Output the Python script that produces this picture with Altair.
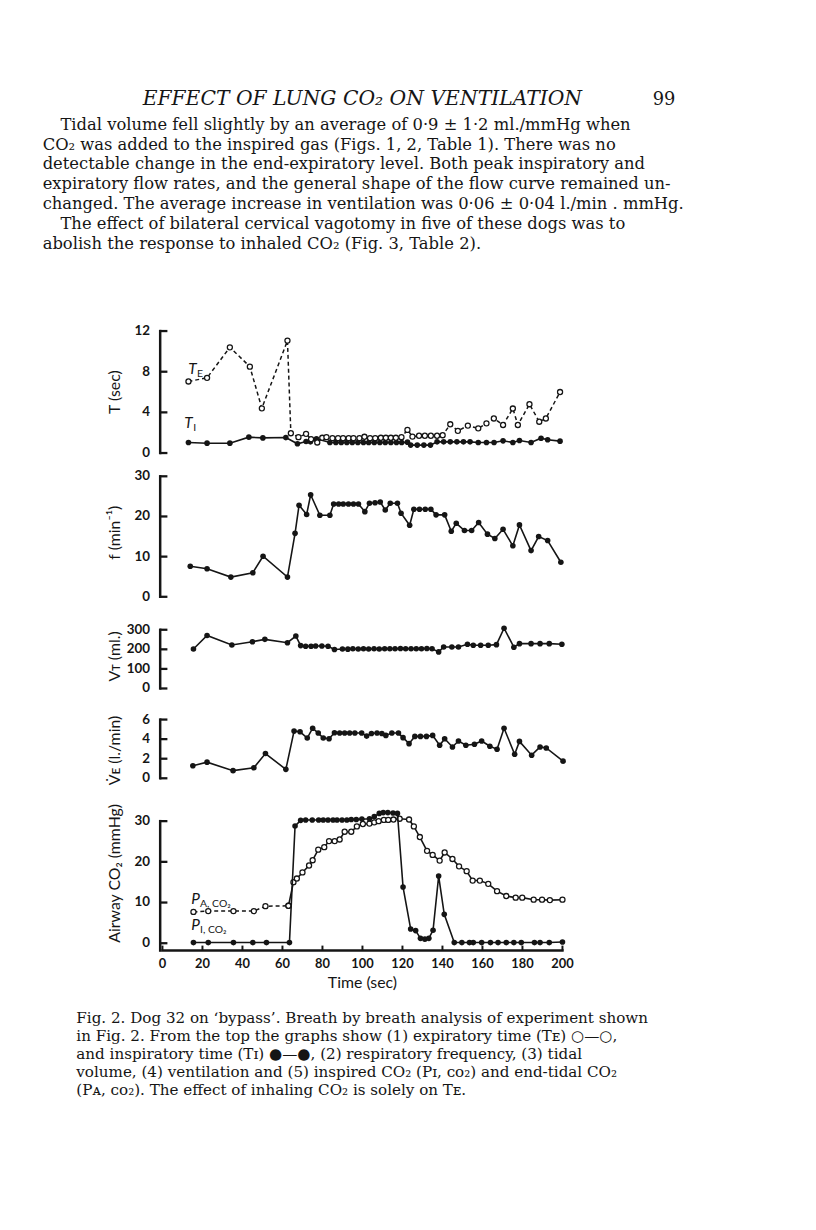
import altair as alt
import pandas as pd

# ---------------- data ----------------
TE_T = [13.0, 22.3, 33.7, 43.7, 49.7, 62.5, 64.2, 68.0, 71.8, 74.3, 77.4, 79.9,
        82.0, 85.0, 87.8, 90.3, 93.1, 95.5, 98.5, 101.0, 103.8, 106.4, 109.2, 111.7,
        114.2, 116.7, 119.5, 122.5, 125.0, 128.3, 131.2, 134.2, 137.3, 140.1, 143.9,
        147.7, 152.7, 157.9, 162.0, 165.7, 170.3, 175.2, 177.7, 183.5, 188.4, 191.7, 198.8]
TE_V = [7.04, 7.4, 10.4, 8.5, 4.4, 11.06, 1.95, 1.56, 1.89, 1.37, 1.04, 1.5,
        1.56, 1.46, 1.46, 1.46, 1.46, 1.46, 1.46, 1.6, 1.46, 1.46, 1.5, 1.5,
        1.5, 1.5, 1.56, 2.27, 1.62, 1.7, 1.7, 1.7, 1.7, 1.75, 2.83,
        2.18, 2.7, 2.43, 2.92, 3.4, 2.76, 4.38, 2.76, 4.8, 3.08, 3.4, 6.0]

TI_T = [13.0, 22.3, 33.7, 43.2, 50.2, 61.7, 67.5, 71.8, 74.0, 77.0,
        83.7, 86.7, 89.4, 92.2, 94.9, 97.7, 100.5, 103.1, 105.9, 108.7, 111.4, 114.2,
        117.0, 119.6, 122.5, 124.1, 127.4, 130.7, 134.0, 137.3, 140.6, 143.9, 147.2,
        150.5, 153.8, 157.9, 162.0, 165.8, 170.3, 175.2, 178.5, 184.3, 189.3, 192.6, 198.8]
TI_V = [1.04, 0.97, 0.97, 1.56, 1.49, 1.52, 0.91, 1.14, 1.1, 1.4,
        1.04, 1.04, 1.04, 1.04, 1.04, 1.04, 1.04, 1.04, 1.04, 1.04, 1.04, 1.04,
        1.04, 1.04, 1.07, 0.78, 0.78, 0.78, 0.78, 1.1, 1.1, 1.1, 1.1,
        1.1, 1.1, 1.04, 1.04, 1.04, 1.2, 1.04, 1.23, 1.04, 1.46, 1.3, 1.17]

F_T = [13.9, 22.3, 34.2, 45.2, 50.3, 62.5, 66.3, 68.3, 72.1, 74.1, 78.7, 83.7,
       85.6, 88.1, 90.4, 93.0, 95.5, 98.0, 101.2, 103.5, 106.3, 108.9, 111.4, 113.9,
       117.5, 119.3, 123.6, 125.7, 128.5, 131.4, 134.2, 136.8, 141.1, 144.4, 146.9,
       151.0, 154.6, 158.1, 162.5, 166.2, 170.3, 175.2, 178.5, 184.3, 188.1, 192.6, 199.2]
F_V = [7.6, 7.0, 4.9, 6.0, 10.1, 4.9, 15.8, 22.8, 20.5, 25.4, 20.3, 20.3,
       23.1, 23.1, 23.1, 23.1, 23.1, 23.1, 21.2, 23.3, 23.4, 23.6, 21.6, 23.3,
       23.3, 20.8, 17.8, 21.8, 21.8, 21.8, 21.8, 20.4, 20.4, 16.3, 18.3,
       16.5, 16.5, 18.5, 15.6, 14.5, 16.8, 12.7, 17.9, 11.5, 15.0, 14.0, 8.6]

VT_T = [15.5, 22.3, 34.7, 45.0, 51.2, 62.5, 66.7, 69.1, 71.6, 74.3, 76.6, 79.7,
        82.8, 86.0, 90.0, 92.7, 95.2, 97.9, 100.5, 103.1, 105.8, 108.4, 111.1, 113.7,
        116.3, 119.0, 121.6, 124.3, 126.9, 129.5, 132.2, 134.8, 138.1, 140.6, 144.7,
        148.0, 152.5, 155.4, 159.1, 162.9, 167.0, 170.8, 175.7, 178.5, 184.3, 188.8,
        193.4, 199.7]
VT_V = [202, 271, 222, 239, 251, 234, 268, 219, 216, 216, 217, 217,
        216, 199, 202, 201, 203, 202, 203, 202, 203, 202, 203, 203,
        203, 204, 203, 203, 203, 203, 204, 203, 187, 212, 212,
        212, 226, 221, 221, 221, 224, 308, 211, 229, 229, 229,
        229, 226]

VE_T = [15.2, 22.3, 35.3, 45.7, 51.5, 61.7, 65.8, 68.8, 72.4, 75.1, 77.9, 80.4,
        83.3, 86.0, 88.6, 91.1, 93.6, 96.2, 99.6, 102.1, 104.5, 107.3, 109.7, 111.7,
        114.7, 118.0, 120.3, 123.3, 126.2, 129.0, 132.0, 135.1, 138.6, 141.1, 145.0,
        148.0, 151.7, 156.0, 159.6, 163.7, 167.3, 170.8, 176.1, 178.5, 184.6, 188.8,
        191.9, 200.3]
VE_V = [1.28, 1.65, 0.78, 1.08, 2.53, 0.91, 4.82, 4.75, 4.11, 5.12, 4.62, 4.11,
        4.04, 4.65, 4.62, 4.62, 4.62, 4.62, 4.62, 4.31, 4.58, 4.62, 4.58, 4.38,
        4.62, 4.62, 4.15, 3.54, 4.28, 4.28, 4.28, 4.38, 3.37, 4.04, 3.2,
        3.81, 3.37, 3.47, 3.81, 3.27, 2.97, 5.12, 2.46, 3.77, 2.36, 3.2,
        3.1, 1.75]

PI_T = [15.5, 22.9, 35.5, 45.2, 52.0, 63.5, 66.3, 69.1, 71.6, 74.9, 78.1, 80.4,
        82.8, 85.3, 87.3, 89.8, 92.2, 94.4, 96.9, 99.7, 103.5, 105.9, 108.4, 110.4,
        112.7, 115.3, 117.5, 120.3, 124.1, 126.6, 129.0, 131.2, 133.2, 135.3, 138.1,
        140.9, 145.9, 149.7, 153.5, 155.4, 159.6, 164.0, 167.8, 171.9, 175.7, 179.4,
        186.0, 188.8, 193.4, 200.0]
PI_V = [0.16, 0.16, 0.16, 0.16, 0.16, 0.16, 28.8, 30.2, 30.3, 30.3, 30.3, 30.3,
        30.3, 30.3, 30.3, 30.3, 30.3, 30.4, 30.4, 30.5, 30.6, 31.1, 31.9, 32.1,
        32.1, 32.0, 31.9, 13.8, 3.5, 3.1, 1.2, 1.0, 1.2, 3.2, 16.5,
        7.1, 0.16, 0.16, 0.16, 0.16, 0.16, 0.16, 0.16, 0.16, 0.16, 0.16,
        0.16, 0.16, 0.16, 0.3]

PA_T = [15.5, 22.9, 35.5, 45.7, 51.5, 63.0, 65.5, 67.2, 70.0, 73.3, 75.1, 77.9,
        80.9, 83.3, 86.1, 88.6, 91.1, 94.4, 97.2, 100.2, 103.5, 105.9, 108.1, 110.7,
        112.9, 115.5, 118.6, 123.3, 125.7, 128.7, 132.3, 135.1, 138.6, 141.1, 145.0,
        148.3, 152.1, 155.1, 158.7, 162.9, 167.3, 171.9, 176.6, 179.9, 185.6, 189.8,
        193.7, 200.0]
PA_V = [7.7, 7.9, 7.9, 7.9, 9.1, 9.2, 15.0, 15.9, 17.4, 19.1, 20.4, 23.0,
        23.6, 25.1, 25.1, 25.5, 27.4, 27.4, 28.7, 29.3, 29.4, 29.7, 30.0, 30.3,
        30.3, 30.4, 30.6, 30.4, 28.7, 26.1, 22.7, 21.7, 20.3, 22.3, 20.7,
        18.9, 17.7, 15.4, 15.4, 14.6, 12.8, 11.6, 11.2, 11.2, 10.7, 10.7,
        10.6, 10.7]
PA_DASHED_UNTIL = 6   # first points (before CO2 added) drawn dashed

X_TICKS = [0, 20, 40, 60, 80, 100, 120, 140, 160, 180, 200]
T_TICKS = [0, 4, 8, 12]
F_TICKS = [0, 10, 20, 30]
VT_TICKS = [0, 100, 200, 300]
VE_TICKS = [0, 2, 4, 6]
CO2_TICKS = [0, 10, 20, 30]

HEADER = "EFFECT OF LUNG CO\u2082 ON VENTILATION"
PAGE_NO = "99"
BODY_LINES = [
    "Tidal volume fell slightly by an average of 0\u00b79 \u00b1 1\u00b72 ml./mmHg when",
    "CO\u2082 was added to the inspired gas (Figs. 1, 2, Table 1). There was no",
    "detectable change in the end-expiratory level. Both peak inspiratory and",
    "expiratory flow rates, and the general shape of the flow curve remained un-",
    "changed. The average increase in ventilation was 0\u00b706 \u00b1 0\u00b704 l./min . mmHg.",
    "The effect of bilateral cervical vagotomy in five of these dogs was to",
    "abolish the response to inhaled CO\u2082 (Fig. 3, Table 2).",
]
BODY_INDENT = [True, False, False, False, False, True, False]
CAPTION_LINES = [
    "Fig. 2. Dog 32 on \u2018bypass\u2019. Breath by breath analysis of experiment shown",
    "in Fig. 2. From the top the graphs show (1) expiratory time (T\u1d07) \u25cb\u2014\u25cb,",
    "and inspiratory time (T\u026a) \u25cf\u2014\u25cf, (2) respiratory frequency, (3) tidal",
    "volume, (4) ventilation and (5) inspired CO\u2082 (P\u026a, \u1d04\u1d0f\u2082) and end-tidal CO\u2082",
    "(P\u1d00, \u1d04\u1d0f\u2082). The effect of inhaling CO\u2082 is solely on T\u1d07.",
]
LABEL_MAIN = ["T", "T", "P", "P"]
LABEL_SUB = ["E", "I", "A, CO\u2082", "I, CO\u2082"]

# ---------------- layout / style ----------------
INK = "#151515"
SANS = "Lato"
SERIF = "DejaVu Serif"
W, H = 404, 626
AX_X = -2.3          # y-axis line position (px, left of x=0)

LABEL_X = [26, 22, 29, 29]
LABEL_Y = [44, 98, 579, 605]

XSCALE = alt.Scale(domain=[0, 200], nice=False, zero=False)


def ysc(domain, rng):
    return alt.Scale(domain=domain, range=rng, nice=False, zero=False)


def series(t, v, ys, filled=True, dash=None):
    df = pd.DataFrame({"t": t, "v": v})
    base = alt.Chart(df).encode(
        x=alt.X("t:Q", scale=XSCALE, axis=None),
        y=alt.Y("v:Q", scale=ys, axis=None),
    )
    if dash:
        line = base.mark_line(color=INK, strokeWidth=1.5, strokeDash=dash)
    else:
        line = base.mark_line(color=INK, strokeWidth=1.6)
    if filled:
        pts = base.mark_point(shape="circle", filled=True, size=32, color=INK, opacity=1)
    else:
        pts = base.mark_point(shape="circle", filled=False, size=26, stroke=INK,
                              fill="white", fillOpacity=1, strokeWidth=1.3, opacity=1)
    return line, pts


def y_axis(ys, ticks, lo, hi, title, title_y):
    tdf = pd.DataFrame({"v": ticks, "lab": [str(t) for t in ticks]})
    dom = alt.Chart(pd.DataFrame({"lo": [lo], "hi": [hi]})).mark_rule(
        color=INK, strokeWidth=2.5, strokeCap="square").encode(
        x=alt.value(AX_X),
        y=alt.Y("lo:Q", scale=ys, axis=None), y2="hi:Q")
    tk = alt.Chart(tdf).mark_rule(color=INK, strokeWidth=2.3).encode(
        x=alt.value(AX_X), x2=alt.value(5),
        y=alt.Y("v:Q", scale=ys, axis=None))
    lb = alt.Chart(tdf).mark_text(align="right", baseline="middle", font=SANS,
                                  fontWeight="bold", fontSize=13.5, color=INK).encode(
        x=alt.value(-12.5),
        y=alt.Y("v:Q", scale=ys, axis=None), text="lab:N")
    tt = alt.Chart(pd.DataFrame({"t": [title]})).mark_text(
        angle=270, align="center", baseline="middle", font=SANS, fontSize=16,
        color=INK).encode(x=alt.value(-47.5), y=alt.value(title_y), text="t:N")
    return [dom, tk, lb, tt]


# panel 1: T
ys1 = ysc([0, 12], [123.5, 0.3])
ti_l, ti_p = series(TI_T, TI_V, ys1)
te_l, te_p = series(TE_T, TE_V, ys1, filled=False, dash=[4, 3])
p1 = alt.layer(*y_axis(ys1, T_TICKS, 0, 12, "T (sec)", 62), ti_l, ti_p, te_l, te_p)

# panel 2: f
ys2 = ysc([0, 30], [268.7, 147])
f_l, f_p = series(F_T, F_V, ys2)
p2 = alt.layer(*y_axis(ys2, F_TICKS, 0, 30, "f (min\u207b\u00b9)", 204), f_l, f_p)

# panel 3: VT
ys3 = ysc([0, 300], [361.3, 302])
vt_l, vt_p = series(VT_T, VT_V, ys3)
p3 = alt.layer(*y_axis(ys3, VT_TICKS, 0, 300, "V\u1d1b (ml.)", 329), vt_l, vt_p)

# panel 4: VE
ys4 = ysc([0, 6], [452, 392.7])
ve_l, ve_p = series(VE_T, VE_V, ys4)
p4 = alt.layer(*y_axis(ys4, VE_TICKS, 0, 6, "V\u0307\u1d07 (l./min)", 424), ve_l, ve_p)

# panel 5: airway CO2
ys5 = ysc([-1.8, 30], [626, 495.3])
pa1_l, pa1_p = series(PA_T[:PA_DASHED_UNTIL], PA_V[:PA_DASHED_UNTIL], ys5, filled=False, dash=[4, 3])
pa2_l, pa2_p = series(PA_T[PA_DASHED_UNTIL - 1:], PA_V[PA_DASHED_UNTIL - 1:], ys5, filled=False)
pi_l, pi_p = series(PI_T, PI_V, ys5)
p5 = alt.layer(*y_axis(ys5, CO2_TICKS, -1.8, 30, "Airway CO\u2082 (mmHg)", 548),
               pa1_l, pa2_l, pa1_p, pa2_p, pi_l, pi_p)

# bottom time axis (inward ticks)
xdf = pd.DataFrame({"t": X_TICKS, "lab": [str(t) for t in X_TICKS]})
x_dom = alt.Chart(pd.DataFrame({"lo": [0], "hi": [200]})).mark_rule(
    color=INK, strokeWidth=2.5, strokeCap="square").encode(
    x=alt.X("lo:Q", scale=XSCALE, axis=None), x2="hi:Q", y=alt.value(H))
x_tk = alt.Chart(xdf).mark_rule(color=INK, strokeWidth=2).encode(
    x=alt.X("t:Q", scale=XSCALE, axis=None), y=alt.value(H), y2=alt.value(H - 5))
x_lb = alt.Chart(xdf).mark_text(align="center", baseline="middle", font=SANS,
                                fontWeight="bold", fontSize=13, color=INK).encode(
    x=alt.X("t:Q", scale=XSCALE, axis=None), y=alt.value(H + 14), text="lab:N")
x_tt = alt.Chart(pd.DataFrame({"t": ["Time (sec)"]})).mark_text(
    align="center", baseline="middle", font=SANS, fontSize=16, color=INK).encode(
    x=alt.value(202), y=alt.value(H + 33), text="t:N")

# in-panel series labels
lab_df = pd.DataFrame({"main": LABEL_MAIN, "sub": LABEL_SUB, "px": LABEL_X, "py": LABEL_Y})
lab_main = alt.Chart(lab_df).mark_text(font=SANS, fontStyle="italic", fontSize=15.5, color=INK,
                                       align="left", baseline="alphabetic").encode(
    x=alt.X("px:Q", scale=None), y=alt.Y("py:Q", scale=None), text="main:N")
lab_sub = alt.Chart(lab_df).mark_text(font=SANS, fontSize=10.5, color=INK, align="left",
                                      baseline="alphabetic", dx=9, dy=3).encode(
    x=alt.X("px:Q", scale=None), y=alt.Y("py:Q", scale=None), text="sub:N")

# page text
hdr_df = pd.DataFrame({"text": [HEADER], "px": [-20], "py": [-228]})
header = alt.Chart(hdr_df).mark_text(font=SERIF, fontStyle="italic", fontSize=20.5, color=INK,
                                     align="left", baseline="alphabetic").encode(
    x=alt.X("px:Q", scale=None), y=alt.Y("py:Q", scale=None), text="text:N")
pg_df = pd.DataFrame({"text": [PAGE_NO], "px": [518], "py": [-228]})
pageno = alt.Chart(pg_df).mark_text(font=SERIF, fontSize=18, color=INK,
                                    align="right", baseline="alphabetic").encode(
    x=alt.X("px:Q", scale=None), y=alt.Y("py:Q", scale=None), text="text:N")

body_df = pd.DataFrame({
    "text": BODY_LINES,
    "px": [-103 if ind else -121 for ind in BODY_INDENT],
    "py": [-203 + 20 * i for i in range(len(BODY_LINES))],
})
body = alt.Chart(body_df).mark_text(font=SERIF, fontSize=16.5, color=INK, align="left",
                                    baseline="alphabetic").encode(
    x=alt.X("px:Q", scale=None), y=alt.Y("py:Q", scale=None), text="text:N")

cap_df = pd.DataFrame({
    "text": CAPTION_LINES,
    "px": [-87 for _ in CAPTION_LINES],
    "py": [698.7 + 18.33 * i for i in range(len(CAPTION_LINES))],
})
caption = alt.Chart(cap_df).mark_text(font=SERIF, fontSize=15.3, color=INK, align="left",
                                      baseline="alphabetic").encode(
    x=alt.X("px:Q", scale=None), y=alt.Y("py:Q", scale=None), text="text:N")

chart = alt.layer(
    p1, p2, p3, p4, p5, x_dom, x_tk, x_lb, x_tt, lab_main, lab_sub,
    header, pageno, body, caption
).resolve_scale(y="independent").properties(
    width=W, height=H,
    autosize=alt.AutoSizeParams(type="none"),
    padding={"left": 156, "top": 320, "right": 248, "bottom": 250},
    background="white",
).configure_view(strokeWidth=0)

chart.save("out.html", embed_options={"renderer": "svg", "actions": False})
